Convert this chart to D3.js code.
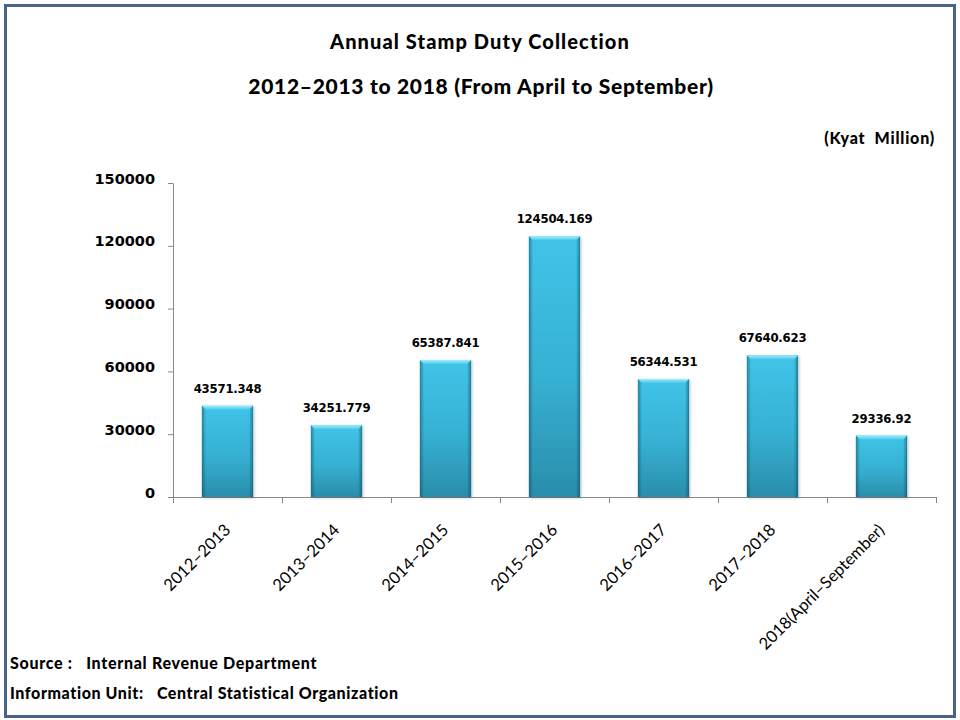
<!DOCTYPE html>
<html>
<head>
<meta charset="utf-8">
<script src="https://cdn.jsdelivr.net/npm/d3@7"></script>
<style>
    body { margin: 0; background: #fff; }
    svg { display: block; }
</style>
</head>
<body>
<div id="chart"></div>
<script>
// Data
var years = ["2012\u20132013", "2013\u20132014", "2014\u20132015", "2015\u20132016",
    "2016\u20132017", "2017\u20132018", "2018(April\u2013September)"];
var collection = [43571.348, 34251.779, 65387.841, 124504.169, 56344.531, 67640.623, 29336.92];
var valueLabels = ["43571.348", "34251.779", "65387.841", "124504.169", "56344.531", "67640.623", "29336.92"];
var yTicks = [0, 30000, 60000, 90000, 120000, 150000];

function init() {
    var w = 960;
    var h = 720;

    var svg = d3.select("#chart")
        .append("svg")
        .attr("width", w)
        .attr("height", h);

    var defs = svg.append("defs");

    // vertical body gradient
    var g1 = defs.append("linearGradient").attr("id", "barFill")
        .attr("x1", 0).attr("y1", 0).attr("x2", 0).attr("y2", 1);
    g1.append("stop").attr("offset", "0%").attr("stop-color", "#40c4e8");
    g1.append("stop").attr("offset", "55%").attr("stop-color", "#36b0d2");
    g1.append("stop").attr("offset", "100%").attr("stop-color", "#2a8dab");

    // darker side edges
    var g2 = defs.append("linearGradient").attr("id", "barSides")
        .attr("x1", 0).attr("y1", 0).attr("x2", 1).attr("y2", 0);
    g2.append("stop").attr("offset", "0%").attr("stop-color", "#0d4a5e").attr("stop-opacity", 0.55);
    g2.append("stop").attr("offset", "8%").attr("stop-color", "#0d4a5e").attr("stop-opacity", 0);
    g2.append("stop").attr("offset", "92%").attr("stop-color", "#0d4a5e").attr("stop-opacity", 0);
    g2.append("stop").attr("offset", "100%").attr("stop-color", "#0d4a5e").attr("stop-opacity", 0.6);

    // top bevel highlight
    var g3 = defs.append("linearGradient").attr("id", "barTop")
        .attr("x1", 0).attr("y1", 0).attr("x2", 0).attr("y2", 1);
    g3.append("stop").attr("offset", "0%").attr("stop-color", "#9beefc");
    g3.append("stop").attr("offset", "100%").attr("stop-color", "#48c8e8");

    var shadow = defs.append("filter").attr("id", "shadow")
        .attr("x", "-20%").attr("y", "-5%").attr("width", "140%").attr("height", "110%");
    shadow.append("feDropShadow").attr("dx", 1).attr("dy", 1)
        .attr("stdDeviation", 1.5).attr("flood-color", "#000").attr("flood-opacity", 0.25);

    // frame
    svg.append("rect")
        .attr("x", 5.5).attr("y", 5.5)
        .attr("width", 949).attr("height", 711)
        .attr("fill", "#fff")
        .attr("stroke", "#4a6489")
        .attr("stroke-width", 3);

    // Titles
    svg.append("text")
        .attr("x", 480).attr("y", 49)
        .attr("text-anchor", "middle")
        .style("font-family", "Lato, 'Open Sans', sans-serif")
        .style("font-weight", "900")
        .style("font-size", "20px")
        .style("letter-spacing", "1.1px")
        .text("Annual Stamp Duty Collection");

    svg.append("text")
        .attr("x", 481).attr("y", 94)
        .attr("text-anchor", "middle")
        .style("font-family", "Lato, 'Open Sans', sans-serif")
        .style("font-weight", "900")
        .style("font-size", "21px")
        .style("letter-spacing", "0.7px")
        .text("2012\u20132013 to 2018 (From April to September)");

    svg.append("text")
        .attr("x", 935).attr("y", 144)
        .attr("text-anchor", "end")
        .style("font-family", "Lato, 'Open Sans', sans-serif")
        .style("font-weight", "900")
        .style("font-size", "16px")
        .style("letter-spacing", "0.8px")
        .attr("xml:space", "preserve")
        .text("(Kyat  Million)");

    // Scales
    var x = d3.scaleBand()
        .domain(years)
        .range([173, 936])
        .paddingInner(0.53)
        .paddingOuter(0.265);

    var y = d3.scaleLinear()
        .domain([0, 150000])
        .range([497, 183]);

    // Y axis
    var yAxis = svg.append("g")
        .attr("transform", "translate(173,0)")
        .call(d3.axisLeft(y).tickValues(yTicks).tickSizeInner(5).tickSizeOuter(0).tickPadding(13)
            .tickFormat(d3.format("d")));
    yAxis.select(".domain").attr("stroke", "#888");
    yAxis.selectAll(".tick line").attr("stroke", "#888");
    yAxis.selectAll(".tick text")
        .style("font-family", "'DejaVu Sans', sans-serif")
        .style("font-weight", "bold")
        .style("font-size", "14.5px")
        .attr("dy", "0em")
        .attr("fill", "#000");

    // X axis baseline with ticks at category boundaries
    var step = x.step();
    var bounds = d3.range(years.length + 1).map(function (i) { return 173 + i * step; });
    svg.append("line")
        .attr("x1", 173).attr("x2", 936)
        .attr("y1", y(0) + 0.5).attr("y2", y(0) + 0.5)
        .attr("stroke", "#888");
    svg.selectAll(".xtick")
        .data(bounds)
        .enter()
        .append("line")
        .attr("class", "xtick")
        .attr("x1", function (d) { return Math.round(d) + 0.5; })
        .attr("x2", function (d) { return Math.round(d) + 0.5; })
        .attr("y1", y(0)).attr("y2", y(0) + 6)
        .attr("stroke", "#888");

    // Bars
    var bars = svg.selectAll(".bar")
        .data(collection)
        .enter()
        .append("g")
        .attr("class", "bar");

    bars.append("rect")
        .attr("x", function (d, i) { return x(years[i]); })
        .attr("y", function (d) { return y(d); })
        .attr("width", x.bandwidth())
        .attr("height", function (d) { return y(0) - y(d); })
        .attr("fill", "url(#barFill)")
        .attr("filter", "url(#shadow)");

    bars.append("rect")
        .attr("x", function (d, i) { return x(years[i]); })
        .attr("y", function (d) { return y(d); })
        .attr("width", x.bandwidth())
        .attr("height", function (d) { return y(0) - y(d); })
        .attr("fill", "url(#barSides)");

    bars.append("path")
        .attr("d", function (d, i) {
            var x0 = x(years[i]), x1 = x0 + x.bandwidth(), t = y(d);
            return "M" + x0 + "," + t + "L" + x1 + "," + t +
                "L" + (x1 - 4) + "," + (t + 4) + "L" + (x0 + 4) + "," + (t + 4) + "Z";
        })
        .attr("fill", "url(#barTop)");

    // value labels
    svg.selectAll(".vlabel")
        .data(collection)
        .enter()
        .append("text")
        .attr("class", "vlabel")
        .attr("x", function (d, i) { return x(years[i]) + x.bandwidth() / 2; })
        .attr("y", function (d) { return y(d) - 13; })
        .attr("text-anchor", "middle")
        .style("font-family", "'DejaVu Sans Condensed', 'DejaVu Sans', sans-serif")
        .style("font-weight", "bold")
        .style("font-size", "13px")
        .style("letter-spacing", "-0.2px")
        .text(function (d, i) { return valueLabels[i]; });

    // category labels, rotated
    svg.selectAll(".xlabel")
        .data(years)
        .enter()
        .append("text")
        .attr("class", "xlabel")
        .attr("transform", function (d) {
            return "translate(" + (x(d) + x.bandwidth() / 2 + 4) + "," + (y(0) + 34) + ") rotate(-45)";
        })
        .attr("text-anchor", "end")
        .style("font-family", "Lato, 'Open Sans', sans-serif")
        .style("font-size", "16.5px")
        .text(function (d) { return d; });

    // footer
    svg.append("text")
        .attr("x", 10).attr("y", 669)
        .style("font-family", "Lato, 'Open Sans', sans-serif")
        .style("font-weight", "900")
        .style("font-size", "16px")
        .style("letter-spacing", "0.7px")
        .attr("xml:space", "preserve")
        .text("Source :   Internal Revenue Department");

    svg.append("text")
        .attr("x", 10).attr("y", 699)
        .style("font-family", "Lato, 'Open Sans', sans-serif")
        .style("font-weight", "900")
        .style("font-size", "16px")
        .style("letter-spacing", "0.6px")
        .attr("xml:space", "preserve")
        .text("Information Unit:   Central Statistical Organization");
}

window.onload = init;
</script>
</body>
</html>
